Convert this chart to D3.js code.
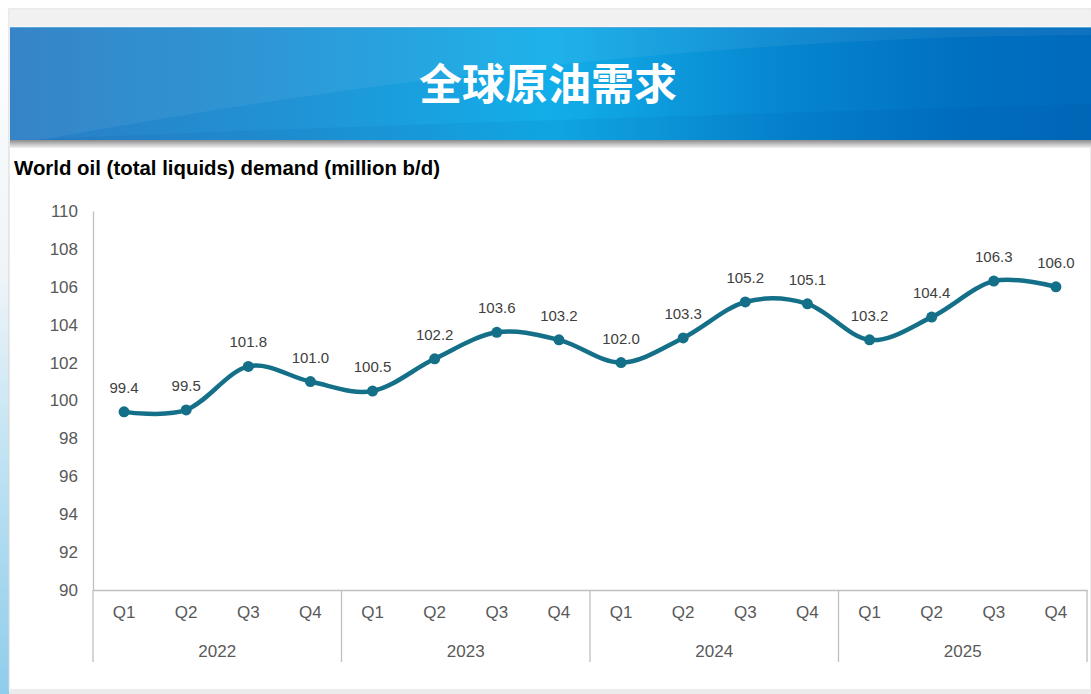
<!DOCTYPE html>
<html>
<head>
<meta charset="utf-8">
<script src="https://cdn.jsdelivr.net/npm/d3@7"></script>
<style>
  html, body { margin: 0; padding: 0; background: #ffffff; }
  svg { display: block; }
</style>
</head>
<body>
<svg id="chart" width="1091" height="694"></svg>
<script>
// Quarterly world oil demand, million barrels per day
const years = ["2022", "2023", "2024", "2025"];
const quarters = ["Q1", "Q2", "Q3", "Q4"];
const demand = [
  99.4, 99.5, 101.8, 101.0,
  100.5, 102.2, 103.6, 103.2,
  102.0, 103.3, 105.2, 105.1,
  103.2, 104.4, 106.3, 106.0
];
const yTicks = [90, 92, 94, 96, 98, 100, 102, 104, 106, 108, 110];
const bannerTitle = "全球原油需求";
const chartTitle = "World oil (total liquids) demand (million b/d)";

const W = 1091, H = 694;
const svg = d3.select("#chart");
const defs = svg.append("defs");

// ---- slide background ----
const sideGrad = defs.append("linearGradient").attr("id", "sideGrad")
  .attr("x1", 0).attr("y1", 0).attr("x2", 0).attr("y2", 1);
sideGrad.append("stop").attr("offset", "0%").attr("stop-color", "#ffffff");
sideGrad.append("stop").attr("offset", "40%").attr("stop-color", "#eef4f8");
sideGrad.append("stop").attr("offset", "70%").attr("stop-color", "#b9e0f2");
sideGrad.append("stop").attr("offset", "100%").attr("stop-color", "#8fcdec");
svg.append("rect").attr("x", 0).attr("y", 0).attr("width", 9).attr("height", H)
  .attr("fill", "url(#sideGrad)");

// slide page
svg.append("rect").attr("x", 9).attr("y", 9).attr("width", W - 9).attr("height", H - 13)
  .attr("fill", "#ffffff").attr("stroke", "#d6d6d6").attr("stroke-width", 1);
svg.append("rect").attr("x", 9.5).attr("y", 9.5).attr("width", W - 9).attr("height", 17)
  .attr("fill", "#f1f1f1");
svg.append("rect").attr("x", 9).attr("y", 689).attr("width", W - 9).attr("height", 5)
  .attr("fill", "#ececec");

// ---- banner ----
const bannerGrad = defs.append("linearGradient").attr("id", "bannerGrad")
  .attr("x1", 0).attr("y1", 0).attr("x2", 1).attr("y2", 0);
bannerGrad.append("stop").attr("offset", "0%").attr("stop-color", "#2a7dc4");
bannerGrad.append("stop").attr("offset", "25%").attr("stop-color", "#2192d4");
bannerGrad.append("stop").attr("offset", "50%").attr("stop-color", "#12aee9");
bannerGrad.append("stop").attr("offset", "72%").attr("stop-color", "#0685cf");
bannerGrad.append("stop").attr("offset", "88%").attr("stop-color", "#0070c0");
bannerGrad.append("stop").attr("offset", "100%").attr("stop-color", "#006abb");

const shadowGrad = defs.append("linearGradient").attr("id", "shadowGrad")
  .attr("x1", 0).attr("y1", 0).attr("x2", 0).attr("y2", 1);
shadowGrad.append("stop").attr("offset", "0%").attr("stop-color", "#8c8c8c");
shadowGrad.append("stop").attr("offset", "100%").attr("stop-color", "#f2f2f2");

const bannerTop = 27, bannerBottom = 140;
svg.append("rect").attr("x", 10).attr("y", bannerBottom).attr("width", W - 10).attr("height", 8)
  .attr("fill", "url(#shadowGrad)");
svg.append("rect").attr("x", 10).attr("y", bannerTop).attr("width", W - 10)
  .attr("height", bannerBottom - bannerTop).attr("fill", "url(#bannerGrad)");
// light swoosh across the banner
svg.append("path")
  .attr("d", `M10,${bannerTop} L${W},${bannerTop} L${W},${bannerTop + 8}
              Q600,${bannerTop + 10} 40,${bannerBottom} L10,${bannerBottom} Z`)
  .attr("fill", "#ffffff").attr("opacity", 0.06);
svg.append("path")
  .attr("d", `M10,${bannerBottom} Q500,${bannerBottom - 20} ${W},${bannerBottom - 36}
              L${W},${bannerBottom} Z`)
  .attr("fill", "#003f8a").attr("opacity", 0.07);
svg.append("line").attr("x1", 10).attr("x2", W).attr("y1", bannerTop + 0.5).attr("y2", bannerTop + 0.5)
  .attr("stroke", "#5aa6dc").attr("stroke-width", 1);

svg.append("text")
  .attr("x", 548).attr("y", 100)
  .attr("text-anchor", "middle")
  .attr("font-family", "'Noto Sans CJK SC', sans-serif")
  .attr("font-weight", 700).attr("font-size", 43)
  .attr("fill", "#ffffff")
  .text(bannerTitle);

// ---- chart title ----
svg.append("text")
  .attr("x", 14).attr("y", 175)
  .attr("font-family", "'Liberation Sans', Arial, sans-serif")
  .attr("font-weight", 700).attr("font-size", 21)
  .attr("textLength", 426).attr("lengthAdjust", "spacingAndGlyphs")
  .attr("fill", "#000000")
  .text(chartTitle);

// ---- scales ----
const plot = { left: 93, right: 1087, top: 211, bottom: 590, catBottom: 662 };
const keys = [];
years.forEach(y => quarters.forEach(q => keys.push(y + " " + q)));
const x = d3.scaleBand().domain(keys).range([plot.left, plot.right]);
const yearScale = d3.scaleBand().domain(years).range([plot.left, plot.right]);
const y = d3.scaleLinear().domain([90, 110]).range([plot.bottom, plot.top]);

const font = "'Liberation Sans', Arial, sans-serif";
const axisColor = "#bfbfbf";
const labelColor = "#595959";

// y axis
const yAxis = svg.append("g")
  .attr("transform", `translate(${plot.left},0)`)
  .call(d3.axisLeft(y).tickValues(yTicks).tickSize(0).tickPadding(15).tickFormat(d3.format("d")));
yAxis.select(".domain").attr("stroke", axisColor).attr("stroke-width", 1.3);
yAxis.selectAll("text").attr("font-family", font).attr("font-size", 17).attr("fill", labelColor);

// x axis (quarters)
const xAxis = svg.append("g")
  .attr("transform", `translate(0,${plot.bottom})`)
  .call(d3.axisBottom(x).tickSize(0).tickPadding(16).tickFormat(d => d.split(" ")[1]));
xAxis.select(".domain").attr("stroke", axisColor).attr("stroke-width", 1.3);
xAxis.selectAll("text").attr("font-family", font).attr("font-size", 17).attr("fill", labelColor);

// year group separators and labels
const sepX = years.map(yr => yearScale(yr)).concat([plot.right]);
svg.append("g").selectAll("line").data(sepX).join("line")
  .attr("x1", d => d).attr("x2", d => d)
  .attr("y1", plot.bottom).attr("y2", plot.catBottom)
  .attr("stroke", axisColor).attr("stroke-width", 1.3);
svg.append("g").selectAll("text").data(years).join("text")
  .attr("x", d => yearScale(d) + yearScale.bandwidth() / 2)
  .attr("y", 657)
  .attr("text-anchor", "middle")
  .attr("font-family", font).attr("font-size", 17).attr("fill", labelColor)
  .text(d => d);

// ---- series ----
const pts = demand.map((v, i) => ({ key: keys[i], value: v }));
const cx = d => x(d.key) + x.bandwidth() / 2;
const lineColor = "#146f88";

const line = d3.line().x(cx).y(d => y(d.value)).curve(d3.curveCardinal.tension(0));
svg.append("path").datum(pts)
  .attr("d", line)
  .attr("fill", "none")
  .attr("stroke", lineColor)
  .attr("stroke-width", 4.5)
  .attr("stroke-linejoin", "round").attr("stroke-linecap", "round");

svg.append("g").selectAll("circle").data(pts).join("circle")
  .attr("cx", cx).attr("cy", d => y(d.value)).attr("r", 5.5)
  .attr("fill", lineColor);

svg.append("g").selectAll("text").data(pts).join("text")
  .attr("x", cx).attr("y", d => y(d.value) - 19)
  .attr("text-anchor", "middle")
  .attr("font-family", font).attr("font-size", 15).attr("fill", "#404040")
  .text(d => d.value.toFixed(1));
</script>
</body>
</html>
